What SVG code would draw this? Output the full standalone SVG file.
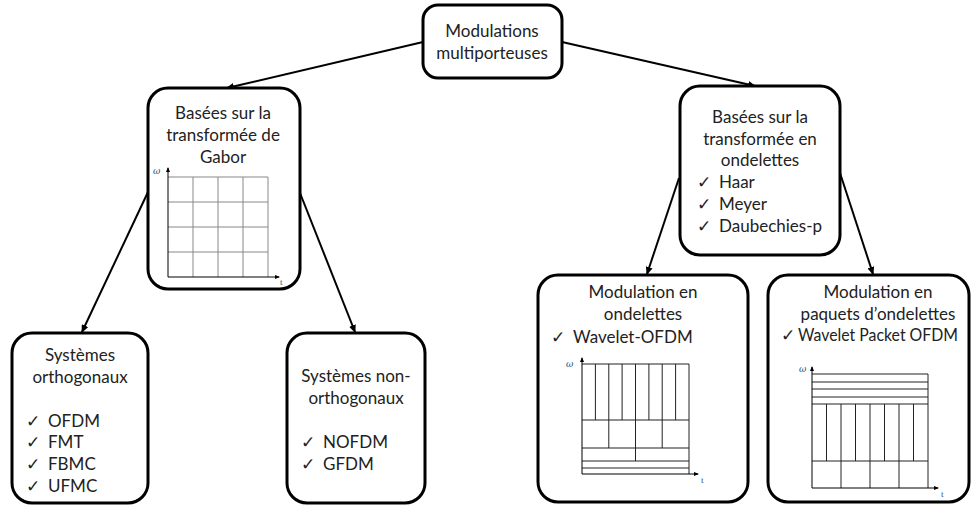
<svg xmlns="http://www.w3.org/2000/svg" width="971" height="506" viewBox="0 0 971 506">
<defs>
<style>
.box{fill:#fff;stroke:#000;stroke-width:3}
.t{font-family:Lato,"Liberation Sans",sans-serif;font-size:17px;fill:#222}
.c{text-anchor:middle}
.ck{font-family:"DejaVu Sans",sans-serif;font-size:17px;fill:#222}
.conn{stroke:#000;stroke-width:2;fill:none;marker-end:url(#ah)}
.g{stroke:#888;stroke-width:1;fill:none}
.gk{stroke:#222;stroke-width:1;fill:none}
.ax{stroke:#000;stroke-width:1;fill:none;marker-end:url(#sa)}
.lbl{font-family:"Liberation Serif",serif;font-size:9px;fill:#1f4e79}
.om{font-family:"DejaVu Serif",serif;font-size:9px;font-style:italic;fill:#1f4e79}
</style>
<marker id="ah" markerUnits="userSpaceOnUse" markerWidth="8" markerHeight="7" refX="7" refY="3.5" orient="auto">
<path d="M0,0 L8,3.5 L0,7 z" fill="#000"/>
</marker>
<marker id="sa" markerUnits="userSpaceOnUse" markerWidth="5" markerHeight="4" refX="4" refY="2" orient="auto">
<path d="M0,0 L5,2 L0,4 z" fill="#000"/>
</marker>
</defs>
<rect width="971" height="506" fill="#fff"/>

<g id="connectors">
<line class="conn" x1="423" y1="42" x2="227" y2="88"/>
<line class="conn" x1="562" y1="42" x2="755" y2="86"/>
<line class="conn" x1="148" y1="192" x2="82" y2="332"/>
<line class="conn" x1="300" y1="193" x2="355" y2="332"/>
<line class="conn" x1="679" y1="178" x2="647" y2="274"/>
<line class="conn" x1="840" y1="173" x2="873" y2="274"/>
</g>

<g id="root">
<rect class="box" x="423" y="5" width="139" height="73" rx="15"/>
<text class="t c" x="492" y="37">Modulations</text>
<text class="t c" x="492" y="59">multiporteuses</text>
</g>

<g id="gabor">
<rect class="box" x="148" y="88" width="152" height="201" rx="20"/>
<text class="t c" x="223" y="119">Basées sur la</text>
<text class="t c" x="223" y="141">transformée de</text>
<text class="t c" x="223" y="163">Gabor</text>
<path class="g" d="M193,177V277M218,177V277M243,177V277M268,177V277M168,177H268M168,202H268M168,227H268M168,252H268"/>
<line class="ax" x1="168" y1="277" x2="168" y2="168"/>
<line class="ax" x1="168" y1="277" x2="279" y2="277"/>
<text class="om" x="153" y="174">ω</text>
<text class="lbl" x="280" y="285">t</text>
</g>

<g id="wavelet">
<rect class="box" x="680" y="86" width="160" height="169" rx="20"/>
<text class="t c" x="760" y="123">Basées sur la</text>
<text class="t c" x="760" y="145">transformée en</text>
<text class="t c" x="760" y="166">ondelettes</text>
<text class="ck" x="697" y="188">✓</text>
<text class="t" x="719" y="188">Haar</text>
<text class="ck" x="697" y="210">✓</text>
<text class="t" x="719" y="210">Meyer</text>
<text class="ck" x="697" y="232">✓</text>
<text class="t" x="719" y="232">Daubechies-p</text>
</g>

<g id="orthogonaux">
<rect class="box" x="12" y="333" width="136" height="170" rx="20"/>
<text class="t c" x="80" y="361">Systèmes</text>
<text class="t c" x="80" y="383">orthogonaux</text>
<text class="ck" x="26" y="427">✓</text>
<text class="t" x="48" y="427">OFDM</text>
<text class="ck" x="26" y="448">✓</text>
<text class="t" x="48" y="448">FMT</text>
<text class="ck" x="26" y="470">✓</text>
<text class="t" x="48" y="470">FBMC</text>
<text class="ck" x="26" y="492">✓</text>
<text class="t" x="48" y="492">UFMC</text>
</g>

<g id="non-orthogonaux">
<rect class="box" x="287" y="333" width="138" height="170" rx="20"/>
<text class="t c" x="356" y="382">Systèmes non-</text>
<text class="t c" x="356" y="404">orthogonaux</text>
<text class="ck" x="301" y="448">✓</text>
<text class="t" x="323" y="448">NOFDM</text>
<text class="ck" x="301" y="470">✓</text>
<text class="t" x="323" y="470">GFDM</text>
</g>

<g id="modulation-ondelettes">
<rect class="box" x="538" y="275" width="210" height="227" rx="20"/>
<text class="t c" x="643" y="298">Modulation en</text>
<text class="t c" x="643" y="320">ondelettes</text>
<text class="ck" x="551" y="343">✓</text>
<text class="t" x="573" y="343">Wavelet-OFDM</text>
<path class="gk" d="M582,364H689V474M582,420H689M582,448H689M582,461H689M582,468H689M595.4,364V420M608.8,364V448M622.1,364V420M635.5,364V461M648.9,364V420M662.2,364V448M675.6,364V420"/>
<line class="ax" x1="582" y1="474" x2="582" y2="358"/>
<line class="ax" x1="582" y1="474" x2="698" y2="474"/>
<text class="om" x="566" y="367">ω</text>
<text class="lbl" x="701" y="483">t</text>
</g>

<g id="modulation-paquets">
<rect class="box" x="768" y="275" width="201" height="227" rx="20"/>
<text class="t c" x="878" y="298">Modulation en</text>
<text class="t c" x="878" y="320">paquets d’ondelettes</text>
<text class="ck" x="781" y="341">✓</text>
<text class="t" x="798" y="341" font-size="16" textLength="160" lengthAdjust="spacingAndGlyphs">Wavelet Packet OFDM</text>
<path class="gk" d="M812,374H928V488M812,382H928M812,389H928M812,397H928M812,404H928M812,461H928M826.5,404V461M841,404V488M855.5,404V461M870,404V488M884.5,404V461M899,404V488M913.5,404V461"/>
<line class="ax" x1="812" y1="488" x2="812" y2="367"/>
<line class="ax" x1="812" y1="488" x2="938" y2="488"/>
<text class="om" x="799" y="372">ω</text>
<text class="lbl" x="941" y="497">t</text>
</g>
</svg>
